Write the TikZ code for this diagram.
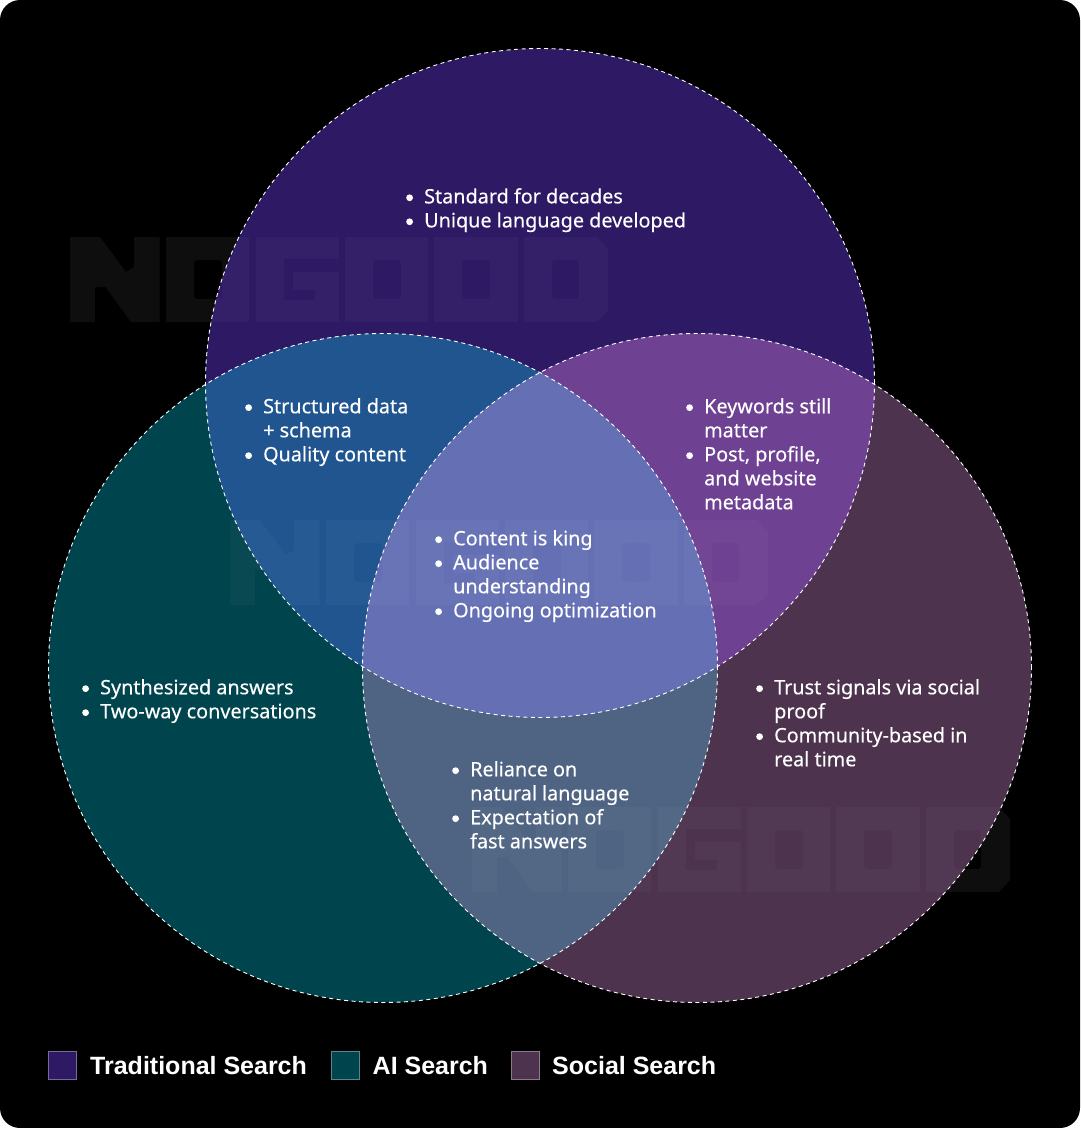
\documentclass[tikz,border=0pt]{standalone}
\usepackage{fontspec}
\setmainfont{Noto Sans}[FakeBold=0.25]
\newfontfamily\legendfont{Liberation Sans}
\definecolor{tradfill}{HTML}{2E1964}
\definecolor{aifill}{HTML}{00444D}
\definecolor{socialfill}{HTML}{4D334E}
\definecolor{tradai}{HTML}{20558F}
\definecolor{tradsocial}{HTML}{6E4192}
\definecolor{aisocial}{HTML}{4E6482}
\definecolor{allthree}{HTML}{6470B3}
\newcommand{\bul}{\makebox[0pt][r]{\tikz[baseline=-5.6pt]\fill[white] (0,0) circle(3.4pt);\hspace{11.2pt}}}
\tikzset{
  itemtext/.style={anchor=north west,inner sep=0pt,align=left,text=white,font=\fontsize{19.8}{24}\selectfont},
  legendbox/.style={minimum size=28pt,inner sep=0pt,line width=0.8pt},
  legendtext/.style={anchor=west,inner sep=0pt,text=white,font=\fontsize{25}{28}\selectfont\legendfont\bfseries},
  ring/.style={draw=white,line width=0.9pt,dash pattern=on 4pt off 3.5pt},
  logopart/.style={fill=white,fill opacity=#1,even odd rule},
}
% blocky logo, drawn from its top left corner
\newcommand{\logomark}[3]{
  \begin{scope}[shift={(#1,#2)}]
    \fill[logopart=#3] (0,0) -- (30,0) -- (56,35) -- (64,30) -- (64,0) -- (89.5,0) -- (89.5,85) -- (61,85) -- (35.5,50) -- (25,50) -- (25,85) -- (0,85) -- cycle;
    \fill[logopart=#3] (96,0) rectangle (179,85) [rounded corners=3pt] (124,23) rectangle (152,62);
    \fill[logopart=#3] (186,0) -- (269,0) -- (269,22) -- (214,22) -- (214,63) -- (245,63) -- (245,53) -- (223,53) -- (223,35) -- (269,35) -- (269,85) -- (186,85) -- cycle;
    \fill[logopart=#3] (275,0) rectangle (358,85) [rounded corners=3pt] (303,23) rectangle (331,62);
    \fill[logopart=#3] (364,0) rectangle (448,85) [rounded corners=3pt] (392,23) rectangle (420,62);
    \fill[logopart=#3] (454,0) -- (527,0) -- (538,12) -- (538,73) -- (527,85) -- (454,85) -- cycle [rounded corners=3pt] (482,23) rectangle (509,62);
  \end{scope}
}
\begin{document}
\begin{tikzpicture}[x=1pt,y=-1pt]
\useasboundingbox (0,0) rectangle (1080,1128);
\fill[white] (0,0) rectangle (1080,1128);
\fill[black,rounded corners=20pt] (0,0) rectangle (1080,1128);
\def\rad{334.5pt}
\coordinate (trad) at (540,383);
\coordinate (ai) at (383,668);
\coordinate (social) at (697,668);
% logo on the black ground
\logomark{70}{237}{0.027}
\logomark{472}{807}{0.027}
% discs and their overlaps
\fill[tradfill] (trad) circle(\rad);
\fill[aifill] (ai) circle(\rad);
\fill[socialfill] (social) circle(\rad);
\begin{scope}
  \clip (trad) circle(\rad);
  \fill[tradai] (ai) circle(\rad);
  \fill[tradsocial] (social) circle(\rad);
\end{scope}
\begin{scope}
  \clip (ai) circle(\rad);
  \fill[aisocial] (social) circle(\rad);
  \clip (social) circle(\rad);
  \fill[allthree] (trad) circle(\rad);
\end{scope}
% logo over the discs
\logomark{70}{237}{0.03}
\logomark{230}{520}{0.03}
\logomark{472}{807}{0.03}
\foreach \c in {trad,ai,social}{\draw[ring] (\c) circle(\rad);}
% list texts
\node[itemtext] (tradlist) at (424,188) {\bul Standard for decades\\\bul Unique language developed};
\node[itemtext] (trailist) at (263,398) {\bul Structured data\\+ schema\\\bul Quality content};
\node[itemtext] (trsolist) at (704,398) {\bul Keywords still\\matter\\\bul Post, profile,\\and website\\metadata};
\node[itemtext] (alllist) at (453,530) {\bul Content is king\\\bul Audience\\understanding\\\bul Ongoing optimization};
\node[itemtext] (ailist) at (100,679) {\bul Synthesized answers\\\bul Two-way conversations};
\node[itemtext] (solist) at (774,679) {\bul Trust signals via social\\proof\\\bul Community-based in\\real time};
\node[itemtext] (aisolist) at (470,761) {\bul Reliance on\\natural language\\\bul Expectation of\\fast answers};
% legend
\node[legendbox,fill=tradfill,draw=tradfill!65!white] (keytrad) at (62.5,1065.5) {};
\node[legendbox,fill=aifill,draw=aifill!65!white] (keyai) at (345.5,1065.5) {};
\node[legendbox,fill=socialfill,draw=socialfill!65!white] (keysocial) at (525.5,1065.5) {};
\node[legendtext] (labtrad) at (90,1066) {Traditional Search};
\node[legendtext] (labai) at (372.5,1066) {AI Search};
\node[legendtext] (labsocial) at (552,1066) {Social Search};
\end{tikzpicture}
\end{document}
